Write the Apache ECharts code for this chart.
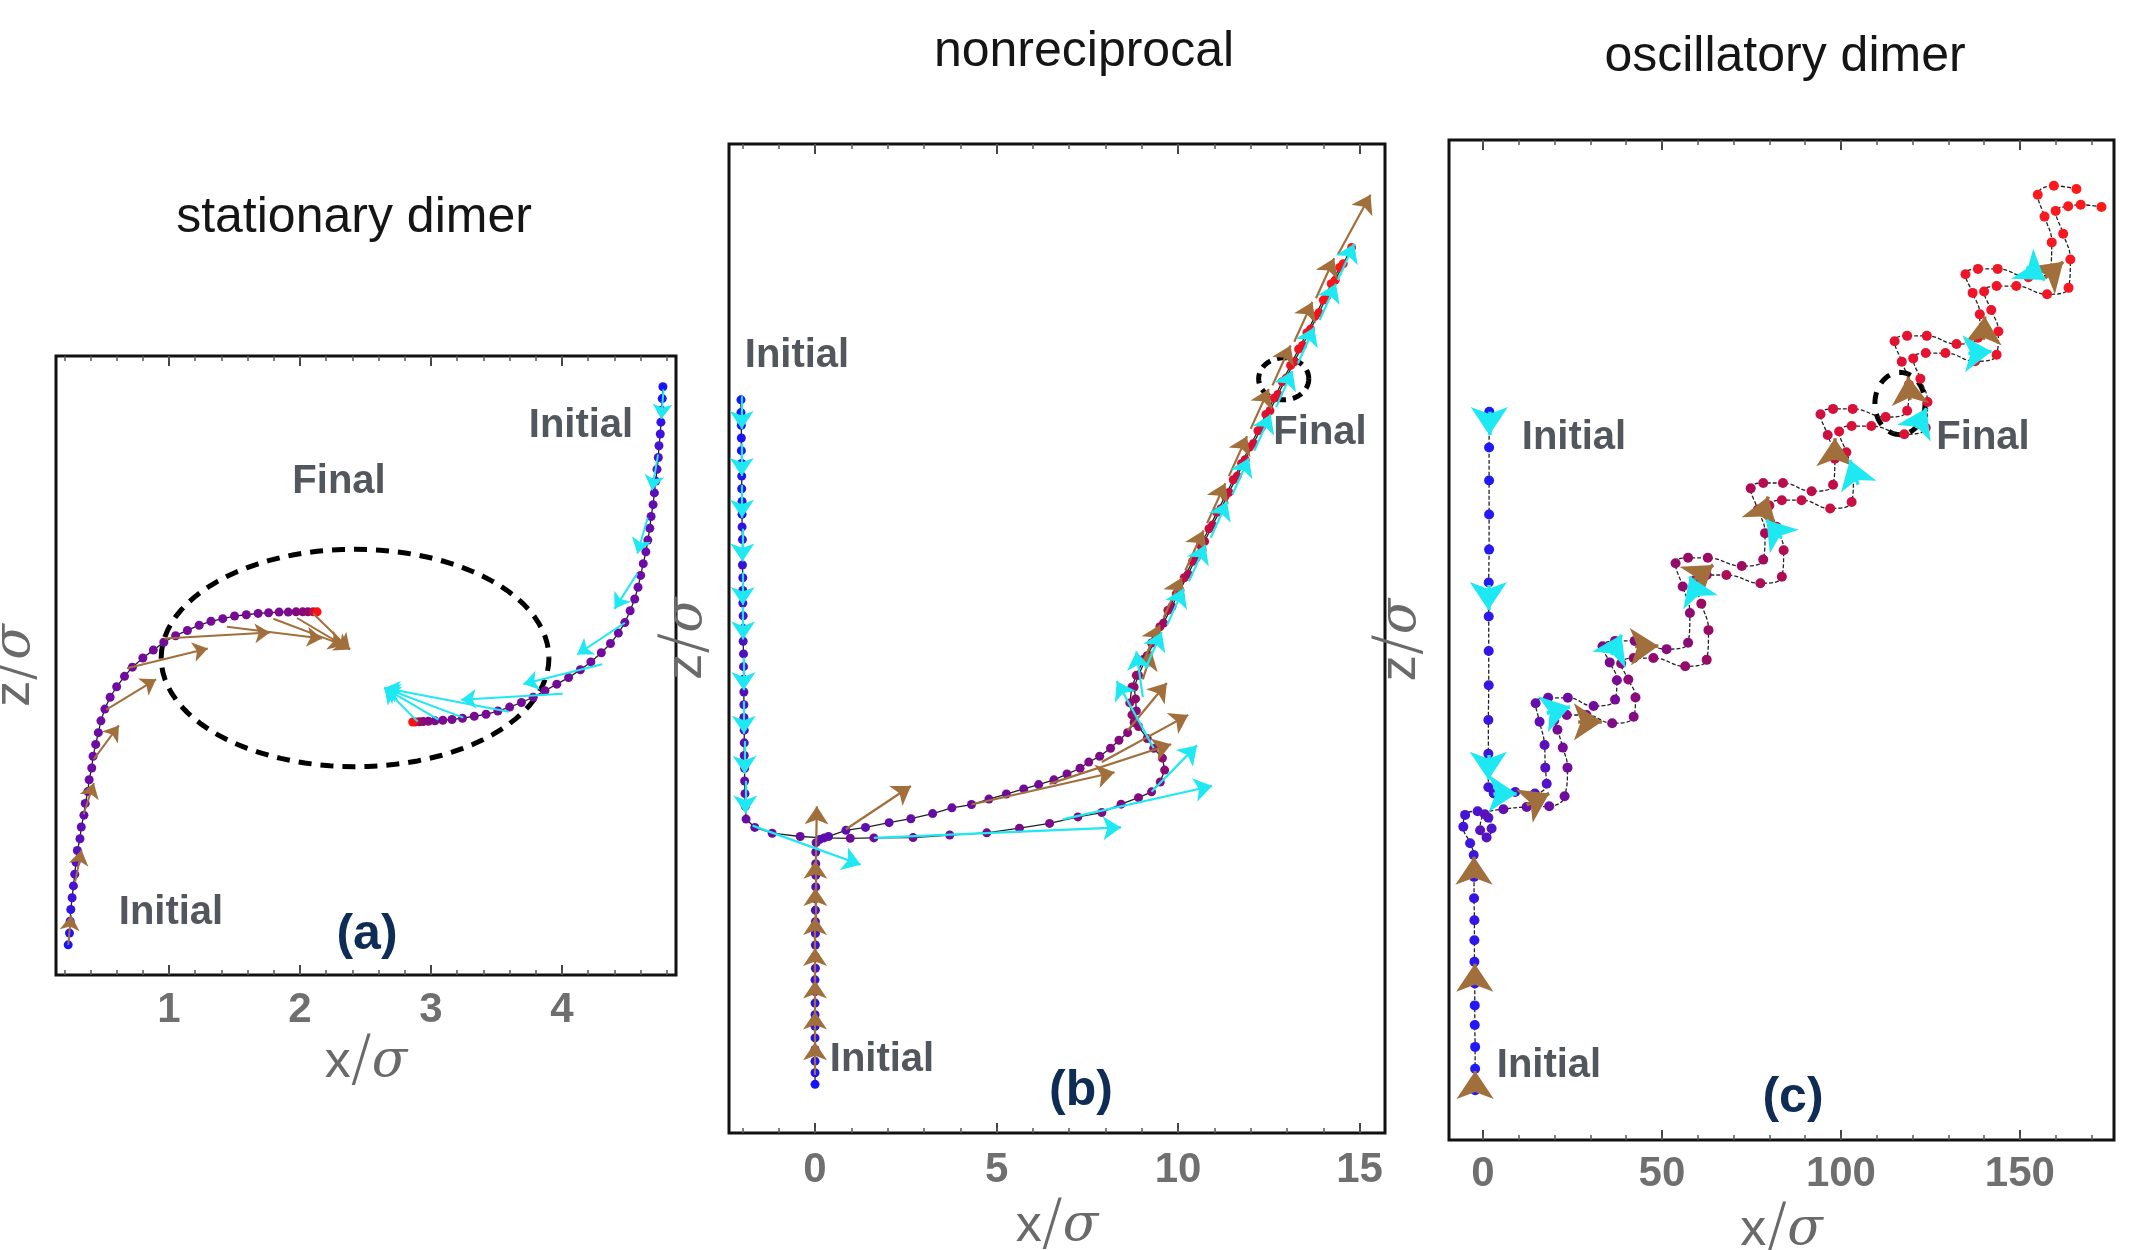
<!DOCTYPE html>
<html>
<head>
<meta charset="utf-8">
<script src="https://cdn.jsdelivr.net/npm/echarts/dist/echarts.min.js"></script>
<style>
html, body { margin: 0; padding: 0; background: #fff; }
#main { width: 2133px; height: 1250px; }
</style>
</head>
<body>
<div id="main"></div>
<script>
// ---- panel (a): stationary dimer ----
var aTicksMajor = [1, 2, 3, 4];
var aTicksMinor = [0.2,0.4,0.6,0.8,1,1.2,1.4,1.6,1.8,2,2.2,2.4,2.6,2.8,3,3.2,3.4,3.6,3.8,4,4.2,4.4,4.6,4.8];
var aTrajBrown = [[0.23,0.23],[0.24,0.32],[0.245,0.41],[0.25,0.50],[0.26,0.59],[0.27,0.68],[0.28,0.77],[0.29,0.86],[0.30,0.95],[0.32,1.04],[0.33,1.13],[0.35,1.22],[0.36,1.31],[0.38,1.40],[0.39,1.49],[0.41,1.58],[0.42,1.67],[0.44,1.76],[0.46,1.85],[0.48,1.94],[0.51,2.03],[0.55,2.12],[0.60,2.20],[0.66,2.28],[0.72,2.35],[0.80,2.42],[0.88,2.48],[0.96,2.54],[1.05,2.59],[1.14,2.63],[1.23,2.67],[1.32,2.70],[1.41,2.72],[1.50,2.74],[1.59,2.75],[1.68,2.76],[1.76,2.765],[1.84,2.77],[1.91,2.77],[1.97,2.772],[2.02,2.772],[2.06,2.772],[2.10,2.772],[2.13,2.772]];
var aTrajCyan = [[4.77,4.49],[4.765,4.40],[4.76,4.31],[4.755,4.22],[4.75,4.13],[4.74,4.04],[4.735,3.95],[4.725,3.86],[4.715,3.77],[4.705,3.68],[4.695,3.59],[4.68,3.50],[4.67,3.41],[4.655,3.32],[4.64,3.23],[4.62,3.14],[4.60,3.05],[4.58,2.96],[4.555,2.87],[4.52,2.78],[4.48,2.69],[4.43,2.61],[4.37,2.53],[4.30,2.46],[4.22,2.39],[4.14,2.33],[4.05,2.27],[3.96,2.22],[3.87,2.17],[3.78,2.12],[3.69,2.08],[3.60,2.045],[3.51,2.015],[3.42,1.99],[3.33,1.975],[3.24,1.96],[3.16,1.95],[3.09,1.945],[3.03,1.94],[2.98,1.937],[2.94,1.935],[2.91,1.933],[2.88,1.932],[2.86,1.931]];
var aArrowsBrown = [
  [[0.230,0.229],[0.252,0.456]], [[0.284,0.713],[0.332,0.954]], [[0.347,1.225],[0.426,1.466]],
  [[0.426,1.648],[0.617,1.905]], [[0.521,2.025],[0.901,2.257]], [[0.679,2.342],[1.296,2.493]],
  [[0.964,2.569],[1.770,2.614]], [[1.441,2.659],[2.167,2.568]], [[1.796,2.719],[2.334,2.516]],
  [[1.977,2.725],[2.381,2.485]], [[2.10,2.76],[2.381,2.485]]
];
var aArrowsCyan = [
  [[4.774,4.470],[4.759,4.244]], [[4.733,3.972],[4.686,3.700]], [[4.654,3.490],[4.575,3.218]],
  [[4.575,3.066],[4.401,2.795]], [[4.480,2.689],[4.116,2.447]], [[4.306,2.372],[3.705,2.221]],
  [[4.005,2.146],[3.230,2.101]], [[3.594,2.010],[2.644,2.191]], [[3.246,1.965],[2.644,2.191]],
  [[3.056,1.949],[2.644,2.191]], [[2.898,1.934],[2.644,2.191]]
];
var aRing = [2.42, 2.42, 1.48, 0.83];

// ---- panel (b): nonreciprocal ----
var bTicksMajor = [0, 5, 10, 15];
var bTicksMinor = [-2,-1,0,1,2,3,4,5,6,7,8,9,10,11,12,13,14,15];
var bTrajCyan = [[-2.04,20.2],[-2.04,19.85],[-2.03,19.5],[-2.03,19.15],[-2.03,18.8],[-2.02,18.45],[-2.02,18.1],[-2.02,17.75],[-2.01,17.4],[-2.01,17.05],[-2.01,16.7],[-2.0,16.35],[-2.0,16.0],[-2.0,15.65],[-1.99,15.3],[-1.99,14.95],[-1.99,14.6],[-1.98,14.25],[-1.98,13.9],[-1.98,13.55],[-1.97,13.2],[-1.97,12.85],[-1.97,12.5],[-1.96,12.15],[-1.96,11.8],[-1.96,11.45],[-1.95,11.1],[-1.95,10.75],[-1.95,10.4],[-1.94,10.05],[-1.94,9.7],[-1.93,9.35],[-1.92,9.0],[-1.90,8.65],
  [-1.66,8.42],[-1.18,8.26],[-0.41,8.17],[0.25,8.13],[0.97,8.12],[1.62,8.13],[2.70,8.14],[3.71,8.21],[4.73,8.27],[5.63,8.40],[6.46,8.53],[7.24,8.71],[7.90,8.83],[8.43,9.06],[8.91,9.24],[9.27,9.40],[9.51,9.67],[9.63,10.00],[9.57,10.33],[9.33,10.60],[9.15,10.87],[8.91,11.20],[8.73,11.52],[8.67,11.85],[8.73,12.29],[8.85,12.61],
  [9.05,13.05],[9.27,13.5],[9.5,13.95],[9.72,14.4],[9.95,14.85],[10.17,15.3],[10.4,15.75],[10.62,16.2],[10.85,16.65],[11.07,17.1],[11.3,17.55],[11.52,18.0],[11.75,18.45],[11.97,18.9],[12.2,19.35],[12.42,19.8],[12.65,20.25],[12.87,20.7],[13.1,21.15],[13.32,21.6],[13.55,22.05],[13.77,22.5],[14.0,22.95],[14.22,23.4],[14.45,23.85]];
var bTrajBrown = [[0.0,1.34],[0.0,1.66],[0.0,1.98],[0.0,2.30],[0.0,2.62],[0.0,2.94],[0.0,3.26],[0.0,3.58],[0.0,3.90],[0.0,4.22],[0.01,4.54],[0.01,4.86],[0.01,5.18],[0.01,5.50],[0.01,5.82],[0.01,6.14],[0.01,6.46],[0.02,6.78],[0.02,7.10],[0.02,7.42],[0.02,7.74],[0.03,8.0],
  [0.13,8.09],[0.37,8.17],[0.85,8.34],[1.39,8.42],[2.04,8.55],[2.64,8.66],[3.24,8.80],[3.77,8.96],[4.31,9.05],[4.79,9.20],[5.27,9.34],[5.75,9.48],[6.16,9.60],[6.58,9.73],[6.94,9.89],[7.30,10.05],[7.54,10.22],[7.84,10.38],[8.14,10.60],[8.37,10.82],[8.61,11.03],[8.79,11.31],[8.85,11.63],[8.83,11.96],[8.79,12.29],[8.91,12.61],
  [9.15,13.15],[9.38,13.6],[9.6,14.05],[9.83,14.5],[10.05,14.95],[10.28,15.4],[10.5,15.85],[10.73,16.3],[10.95,16.75],[11.18,17.2],[11.4,17.65],[11.63,18.1],[11.85,18.55],[12.08,19.0],[12.3,19.45],[12.53,19.9],[12.75,20.35],[12.98,20.8],[13.2,21.25],[13.43,21.7],[13.65,22.15],[13.88,22.6],[14.1,23.05],[14.33,23.5],[14.55,23.95],[14.78,24.4]];
var bArrowsCyan = [
  [[-2.02,20.3],[-2.02,19.4]], [[-2.02,19.0],[-2.02,18.1]], [[-2.01,17.85],[-2.01,16.95]], [[-2.0,16.65],[-2.0,15.75]],
  [[-1.99,15.45],[-1.99,14.55]], [[-1.98,14.5],[-1.98,13.6]], [[-1.97,13.1],[-1.97,12.2]], [[-1.96,11.9],[-1.96,11.0]],
  [[-1.94,10.8],[-1.94,9.9]], [[-1.92,9.7],[-1.92,8.8]],
  [[-1.72,8.47],[1.26,7.39]], [[1.62,8.13],[8.43,8.42]], [[6.82,8.64],[10.94,9.56]], [[9.27,9.40],[10.52,10.68]],
  [[9.33,10.60],[8.31,12.45]], [[9.03,12.01],[8.85,13.27]],
  [[9.1,12.8],[9.55,13.8]], [[9.7,14.0],[10.15,15.0]], [[10.3,15.2],[10.75,16.2]], [[10.9,16.4],[11.35,17.4]],
  [[11.5,17.6],[11.95,18.6]], [[12.1,18.8],[12.55,19.8]], [[12.7,20.0],[13.15,21.0]], [[13.3,21.2],[13.75,22.2]],
  [[13.9,22.4],[14.35,23.4]], [[14.4,23.5],[14.85,24.5]]
];
var bArrowsBrown = [
  [[0,1.6],[0,2.5]], [[0,2.45],[0,3.35]], [[0,3.3],[0,4.2]], [[0,4.2],[0,5.1]], [[0,5.05],[0,5.95]],
  [[0.01,5.85],[0.01,6.75]], [[0.01,6.6],[0.01,7.5]], [[0.02,7.3],[0.05,9.0]],
  [[0.85,8.37],[2.64,9.56]], [[4.31,9.05],[8.25,9.94]], [[6.46,9.62],[9.81,10.71]], [[7.90,10.22],[10.28,11.52]],
  [[8.61,11.09],[9.69,12.40]], [[9.03,12.50],[9.27,13.27]],
  [[9.0,12.9],[9.5,14.0]], [[9.6,14.2],[10.1,15.3]], [[10.2,15.5],[10.7,16.6]], [[10.8,16.8],[11.3,17.9]],
  [[11.4,18.1],[11.9,19.2]], [[12.0,19.4],[12.5,20.5]], [[12.6,20.6],[13.1,21.7]], [[13.2,21.8],[13.7,22.9]],
  [[13.8,23.0],[14.3,24.1]], [[14.4,24.2],[15.3,25.85]]
];
var bRing = [12.91, 20.78, 0.69, 0.58];

// ---- panel (c): oscillatory dimer ----
var cTicksMajor = [0, 50, 100, 150];
var cTicksMinor = [0,10,20,30,40,50,60,70,80,90,100,110,120,130,140,150,160,170];
var cTrajCyan = [[1.76,203.4],[1.7,193.4],[1.7,184.2],[1.7,174.7],[1.7,164.9],[1.6,155.7],[1.6,146.2],[1.6,136.6],[1.6,127.0],[1.5,117.3],[1.5,107.9],[1.5,98.5],
  [3.0,96.8],[9.0,97.2],[14.5,96.8],[17.8,99.5],[17.4,104.0],[17.2,110.3],[15.8,116.8],
  [14.7,122.0],[18.2,123.5],[23.7,123.5],[30.9,121.2],[36.9,123.0],[37.4,128.4],[35.4,133.4],
  [33.4,137.9],[36.9,139.4],[42.4,139.4],[51.3,137.1],[57.3,138.9],[57.8,147.2],[55.8,154.6],
  [53.8,161.1],[57.3,162.6],[62.8,162.6],[72.3,160.3],[78.3,162.1],[78.8,169.5],[76.8,176.1],
  [74.8,182.0],[78.3,183.5],[83.8,183.5],[91.8,181.2],[97.8,183.0],[98.3,190.3],[96.3,196.9],
  [94.3,202.7],[97.8,204.2],[103.3,204.2],[112.5,201.9],[118.5,203.7],[119.0,210.9],[117.0,217.4],
  [115.0,223.1],[118.5,224.6],[124.0,224.6],[132.3,222.3],[138.3,224.1],[138.8,230.6],[136.8,236.6],
  [134.8,241.8],[138.3,243.3],[143.8,243.3],[152.4,241.0],[158.4,242.8],[158.9,250.7],[156.9,257.9],
  [155.0,264.0],[159.5,266.5],[165.8,265.6]];
var cTrajBrown = [[-2.2,13.9],[-2.2,19.9],[-2.2,26.0],[-2.3,32.1],[-2.3,37.6],[-2.3,43.7],[-2.4,49.8],[-2.4,55.8],[-2.4,61.4],[-2.5,67.5],[-2.5,73.5],[-2.6,79.6],
  [-3.6,82.9],[-5.5,87.5],[-5.0,90.8],[-1.5,91.8],[1.5,90.0],[2.4,87.0],[1.0,84.5],[-0.8,86.5],[0.5,91.0],
  [5.7,92.4],[12.2,93.0],[18.5,93.2],[22.8,96.0],[23.6,104.0],[22.3,109.6],[20.8,114.6],
  [19.9,117.2],[23.4,118.7],[28.9,118.7],[36.1,116.4],[42.1,118.2],[42.6,123.6],[40.6,128.6],
  [38.6,133.1],[42.1,134.6],[47.6,134.6],[56.5,132.3],[62.5,134.1],[63.0,142.4],[61.0,149.8],
  [59.0,156.3],[62.5,157.8],[68.0,157.8],[77.5,155.5],[83.5,157.3],[84.0,164.7],[82.0,171.3],
  [80.0,177.2],[83.5,178.7],[89.0,178.7],[97.0,176.4],[103.0,178.2],[103.5,185.5],[101.5,192.1],
  [99.5,197.9],[103.0,199.4],[108.5,199.4],[117.7,197.1],[123.7,198.9],[124.2,206.1],[122.2,212.6],
  [120.2,218.3],[123.7,219.8],[129.2,219.8],[137.5,217.5],[143.5,219.3],[144.0,225.8],[142.0,231.8],
  [140.0,237.0],[143.5,238.5],[149.0,238.5],[157.6,236.2],[163.6,238.0],[164.1,245.9],[162.1,253.1],
  [160.0,259.5],[163.5,260.8],[167.0,261.2],[172.8,260.6]];
var cArrowsCyan = [
  [[1.76,203.4],[1.76,196.9]], [[1.5,155.0],[1.5,148.0]], [[1.5,107.5],[1.5,100.6]],
  [[2.9,96.8],[9.4,96.8]], [[17.8,119.2],[24.3,121.0]], [[35.9,135.5],[38.7,141.1]], [[60.1,151.8],[57.8,157.4]],
  [[83.4,168.1],[79.2,173.2]], [[104.8,183.0],[102.5,189.9]], [[121.1,198.8],[123.9,204.4]],
  [[135.6,219.7],[142.1,220.2]], [[151.9,243.9],[157.0,240.2]]
];
var cArrowsBrown = [
  [[-2.2,13.9],[-2.2,19.3]], [[-2.3,43.7],[-2.3,49.2]], [[-2.5,73.5],[-2.5,79.1]],
  [[12.2,93.6],[18.5,96.8]], [[26.6,116.8],[33.2,116.8]], [[42.5,137.8],[49.0,138.0]], [[58.7,156.4],[64.3,160.6]],
  [[77.8,174.1],[79.7,179.7]], [[98.3,189.9],[98.3,196.0]], [[119.3,206.7],[118.8,213.2]],
  [[139.8,223.5],[140.2,230.0]], [[157.0,240.7],[162.1,245.3]]
];
var cRing = [116.5, 205.7, 7.0, 8.7];

// colour ramps along time (blue -> purple -> red)
var rampA = [[0,'#1414ff'],[0.12,'#4a12d0'],[0.3,'#6a0ca8'],[0.88,'#7a0a90'],[0.96,'#8e0a6a'],[1,'#ff1010']];
var rampB = [[0,'#1414ff'],[0.25,'#5010c0'],[0.45,'#700a9a'],[0.68,'#9a0a62'],[0.82,'#d00c3a'],[1,'#ff1515']];
var rampC = [[0,'#1a1aff'],[0.2,'#4a14d0'],[0.3,'#6e0ca0'],[0.5,'#9a0a62'],[0.7,'#d8103a'],[1,'#ff1a1a']];

function rgb(h) {
  return [parseInt(h.substr(1, 2), 16), parseInt(h.substr(3, 2), 16), parseInt(h.substr(5, 2), 16)];
}
function ramp(stops, n) {
  return function (p) {
    var t = n > 1 ? p.dataIndex / (n - 1) : 0;
    for (var i = 1; i < stops.length; i++) {
      if (t <= stops[i][0]) {
        var a = stops[i - 1], b = stops[i];
        var f = (t - a[0]) / (b[0] - a[0]);
        var ca = rgb(a[1]), cb = rgb(b[1]);
        return 'rgb(' + Math.round(ca[0] + (cb[0] - ca[0]) * f) + ',' +
          Math.round(ca[1] + (cb[1] - ca[1]) * f) + ',' + Math.round(ca[2] + (cb[2] - ca[2]) * f) + ')';
      }
    }
    return stops[stops.length - 1][1];
  };
}

var BROWN = '#a06f3c';
var CYAN = '#1ee8f2';

var nameRich = {
  x: { fontSize: 52, color: '#6a6a6a', fontFamily: 'Liberation Sans' },
  s: { fontSize: 62, color: '#6a6a6a', fontFamily: 'DejaVu Sans', fontWeight: 'lighter' },
  g: { fontSize: 52, color: '#6a6a6a', fontFamily: 'DejaVu Serif', fontStyle: 'italic' }
};

function xAxes(g, min, max, major, minor, nameGap, margin) {
  function ax(extra) {
    var o = { gridIndex: g, type: 'value', min: min, max: max,
      splitLine: { show: false }, axisLine: { show: false, onZero: false }, axisLabel: { show: false } };
    for (var k in extra) o[k] = extra[k];
    return o;
  }
  var tickMajor = { inside: true, length: 10, customValues: major, lineStyle: { color: '#444', width: 2 } };
  var tickMinor = { inside: true, length: 5, customValues: minor, lineStyle: { color: '#555', width: 1.5 } };
  return [
    ax({ position: 'bottom', axisTick: tickMajor,
      axisLabel: { show: true, customValues: major, margin: margin, fontSize: 42, fontWeight: 'bold',
        color: '#6f6f6f', fontFamily: 'Liberation Sans' },
      name: '{x|x}{s|/}{g|σ}', nameLocation: 'middle', nameGap: nameGap, nameTextStyle: { rich: nameRich } }),
    ax({ position: 'bottom', axisTick: tickMinor }),
    ax({ position: 'top', axisTick: tickMajor }),
    ax({ position: 'top', axisTick: tickMinor })
  ];
}
function yAxis(g, max, nameGap) {
  return { gridIndex: g, type: 'value', min: 0, max: max, position: 'left',
    axisLine: { show: false }, axisTick: { show: false }, axisLabel: { show: false }, splitLine: { show: false },
    name: '{x|z}{s|/}{g|σ}', nameLocation: 'middle', nameRotate: 90, nameGap: nameGap,
    nameTextStyle: { rich: nameRich } };
}

function traj(g, data, stops, size, smooth, dashed) {
  return { type: 'line', xAxisIndex: g * 4, yAxisIndex: g, data: data, smooth: smooth,
    symbol: 'circle', symbolSize: size, showSymbol: true, silent: true, z: 3,
    lineStyle: { color: '#222', width: 1.3, type: dashed ? [4, 2] : 'solid' },
    itemStyle: { color: ramp(stops, data.length) } };
}
function arrows(g, pairs, color, width, size) {
  return { type: 'lines', coordinateSystem: 'cartesian2d', xAxisIndex: g * 4, yAxisIndex: g,
    symbol: ['none', 'arrow'], symbolSize: size, silent: true, z: 4,
    lineStyle: { color: color, width: width, opacity: 1, curveness: 0 },
    data: pairs.map(function (p) { return { coords: p }; }) };
}
function ring(g, r, width, dash) {
  return { type: 'custom', xAxisIndex: g * 4, yAxisIndex: g, data: [r], silent: true, z: 2,
    renderItem: function (params, api) {
      var c = api.coord([api.value(0), api.value(1)]);
      var s = api.size([api.value(2), api.value(3)]);
      var pts = [];
      for (var k = 0; k <= 96; k++) {
        var t = k / 96 * 2 * Math.PI;
        pts.push([c[0] + s[0] * Math.cos(t), c[1] + s[1] * Math.sin(t)]);
      }
      return { type: 'polyline', shape: { points: pts },
        style: { stroke: '#000', fill: null, lineWidth: width, lineDash: dash } };
    } };
}

function txt(s, x, y, size, weight, color) {
  return { type: 'text', x: x, y: y, z: 10, silent: true,
    style: { text: s, fontSize: size, fontWeight: weight, fontFamily: 'Liberation Sans', fill: color,
      align: 'center', verticalAlign: 'middle', textAlign: 'center', textVerticalAlign: 'middle' } };
}

var gridBase = { show: true, borderColor: '#111', borderWidth: 3, containLabel: false, outerBoundsMode: 'none' };
function grid(l, t, w, h) {
  var o = { left: l, top: t, width: w, height: h };
  for (var k in gridBase) o[k] = gridBase[k];
  return o;
}

var myChart = echarts.init(document.getElementById('main'));
option = {
  animation: false,
  backgroundColor: '#fff',
  grid: [grid(56, 356, 620, 619), grid(729, 144, 656, 989), grid(1449, 140, 665, 1000)],
  xAxis: [].concat(
    xAxes(0, 0.137, 4.870, aTicksMajor, aTicksMinor, 56, 14),
    xAxes(1, -2.37, 15.70, bTicksMajor, bTicksMinor, 56, 16),
    xAxes(2, -9.5, 176.3, cTicksMajor, cTicksMinor, 50, 13)
  ),
  yAxis: [yAxis(0, 4.725, 10), yAxis(1, 27.25, 11), yAxis(2, 279.3, 17)],
  graphic: [
    txt('stationary dimer', 354, 218, 50, 'normal', '#151515'),
    txt('nonreciprocal', 1084, 52, 50, 'normal', '#151515'),
    txt('oscillatory dimer', 1785, 57, 50, 'normal', '#151515'),
    txt('Initial', 581, 426, 40, 'bold', '#52575e'),
    txt('Final', 339, 482, 40, 'bold', '#52575e'),
    txt('Initial', 171, 913, 40, 'bold', '#52575e'),
    txt('(a)', 367, 935, 50, 'bold', '#0e2c55'),
    txt('Initial', 797, 356, 40, 'bold', '#52575e'),
    txt('Final', 1320, 433, 40, 'bold', '#52575e'),
    txt('Initial', 882, 1060, 40, 'bold', '#52575e'),
    txt('(b)', 1081, 1091, 50, 'bold', '#0e2c55'),
    txt('Initial', 1574, 438, 40, 'bold', '#52575e'),
    txt('Final', 1983, 438, 40, 'bold', '#52575e'),
    txt('Initial', 1549, 1066, 40, 'bold', '#52575e'),
    txt('(c)', 1793, 1098, 50, 'bold', '#0e2c55')
  ],
  series: [
    ring(0, aRing, 5, [13, 9]),
    traj(0, aTrajBrown, rampA, 9, false, false),
    traj(0, aTrajCyan, rampA, 9, false, false),
    arrows(0, aArrowsBrown, BROWN, 2, 15),
    arrows(0, aArrowsCyan, CYAN, 2, 15),

    ring(1, bRing, 5, [10, 7]),
    traj(1, bTrajCyan, rampB, 9, false, false),
    traj(1, bTrajBrown, rampB, 9, false, false),
    arrows(1, bArrowsBrown, BROWN, 2.2, 18),
    arrows(1, bArrowsCyan, CYAN, 2.2, 18),

    ring(2, cRing, 5, [12, 10]),
    traj(2, cTrajCyan, rampC, 10, 0.45, true),
    traj(2, cTrajBrown, rampC, 10, 0.45, true),
    arrows(2, cArrowsBrown, BROWN, 3.5, 28),
    arrows(2, cArrowsCyan, CYAN, 3.5, 28)
  ]
};
myChart.setOption(option);
</script>
</body>
</html>
